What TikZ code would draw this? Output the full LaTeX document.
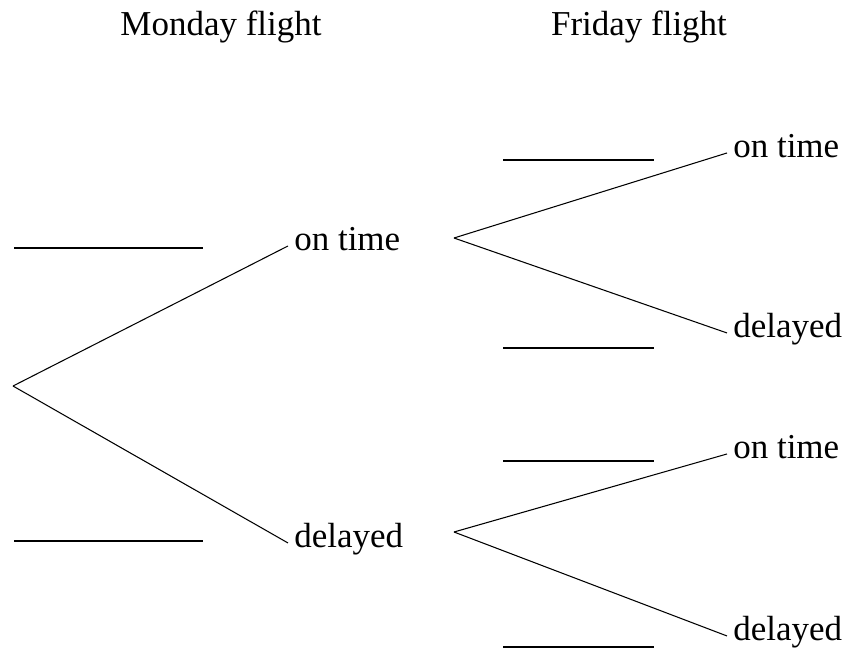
\documentclass[tikz,border=0pt]{standalone}
\usepackage{fontspec}
\setmainfont{Liberation Serif}
\tikzset{
    branch/.style={line width=0.6pt},
    blank/.style={line width=0.6pt},
    outcome/.style={anchor=base west, inner xsep=0.12cm, inner ysep=0pt},
    heading/.style={anchor=base, inner sep=0pt}
}
\begin{document}
\begin{tikzpicture}[x=0.02cm, y=-0.02cm, font=\fontsize{19.9}{24}\selectfont]
        \useasboundingbox (0,0) rectangle (846,650);

        % Tiêu đề hai cột
        \node[heading] (monday) at (221,35) {Monday flight};
        \node[heading] (friday) at (639,35) {Friday flight};

        % Nhánh thứ nhất: chuyến bay thứ Hai
        \coordinate (root) at (13,386);
        \node[outcome] (mon-on) at (288,250) {on time};
        \node[outcome] (mon-del) at (288,547) {delayed};
        \draw[branch] (root) -- (mon-on.mid west);
        \draw[branch] (root) -- (mon-del.mid west);
        \draw[blank] (14,248) -- (203,248);
        \draw[blank] (14,541) -- (203,541);

        % Nhánh thứ hai: chuyến bay thứ Sáu sau "on time"
        \coordinate (fork-on) at (454,238);
        \node[outcome] (fri-on-on) at (727,157) {on time};
        \node[outcome] (fri-on-del) at (727,337) {delayed};
        \draw[branch] (fork-on) -- (fri-on-on.mid west);
        \draw[branch] (fork-on) -- (fri-on-del.mid west);
        \draw[blank] (503,160) -- (654,160);
        \draw[blank] (503,348) -- (654,348);

        % Nhánh thứ hai: chuyến bay thứ Sáu sau "delayed"
        \coordinate (fork-del) at (454,532);
        \node[outcome] (fri-del-on) at (727,458) {on time};
        \node[outcome] (fri-del-del) at (727,640) {delayed};
        \draw[branch] (fork-del) -- (fri-del-on.mid west);
        \draw[branch] (fork-del) -- (fri-del-del.mid west);
        \draw[blank] (503,461) -- (654,461);
        \draw[blank] (503,647) -- (654,647);
    \end{tikzpicture}
\end{document}
